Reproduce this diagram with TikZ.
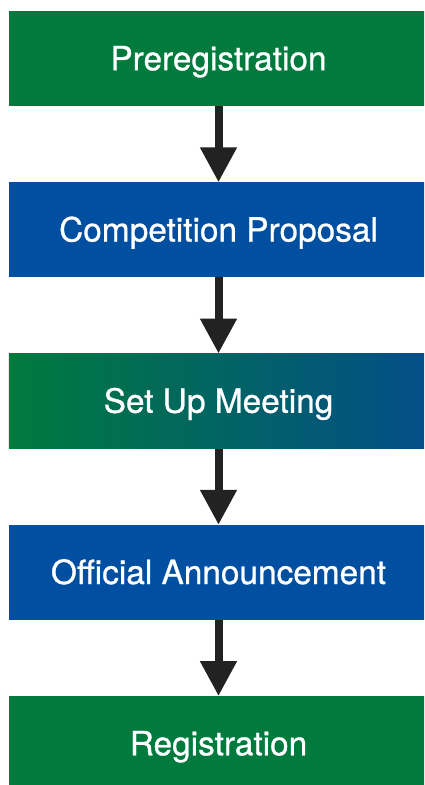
\documentclass[tikz,border=0pt]{standalone}
\usepackage{fontspec}
\setmainfont{TeX Gyre Heros}
\newfontfamily\boxfont{TeX Gyre Heros}[FakeBold=0.8]
\usetikzlibrary{arrows.meta}
\definecolor{bgreen}{HTML}{007A3D}
\definecolor{bblue}{HTML}{004FA0}
\definecolor{gblue}{HTML}{034E88}
\begin{document}
\begin{tikzpicture}[x=1bp,y=-1bp,
  stepbox/.style={minimum width=419bp,minimum height=95bp,inner sep=0pt,outer sep=0pt,
    text height=23.5bp,text depth=0pt,
    text=white,font=\boxfont\fontsize{33.5}{38}\selectfont},
  greenbox/.style={stepbox,fill=bgreen},
  bluebox/.style={stepbox,fill=bblue},
  gradbox/.style={stepbox,left color=bgreen,right color=gblue},
  arr/.style={line width=8bp,draw={rgb,255:red,34;green,34;blue,34},
    -{Triangle[width=35bp,length=35bp]}}]
\useasboundingbox (0,0) rectangle (424,785);
\clip (0,0) rectangle (424,785);
\fill[white] (0,0) rectangle (424,785);
\node[greenbox] (a) at (218.5,58.5) {Preregistration};
\node[bluebox] (b) at (218.5,229.75) {Competition Proposal};
\node[gradbox] (c) at (218.5,401) {Set Up Meeting};
\node[bluebox] (d) at (218.5,572.25) {Official Announcement};
\node[greenbox] (e) at (218.5,743.5) {Registration};
\draw[arr] (a) -- (b);
\draw[arr] (b) -- (c);
\draw[arr] (c) -- (d);
\draw[arr] (d) -- (e);
\end{tikzpicture}
\end{document}
